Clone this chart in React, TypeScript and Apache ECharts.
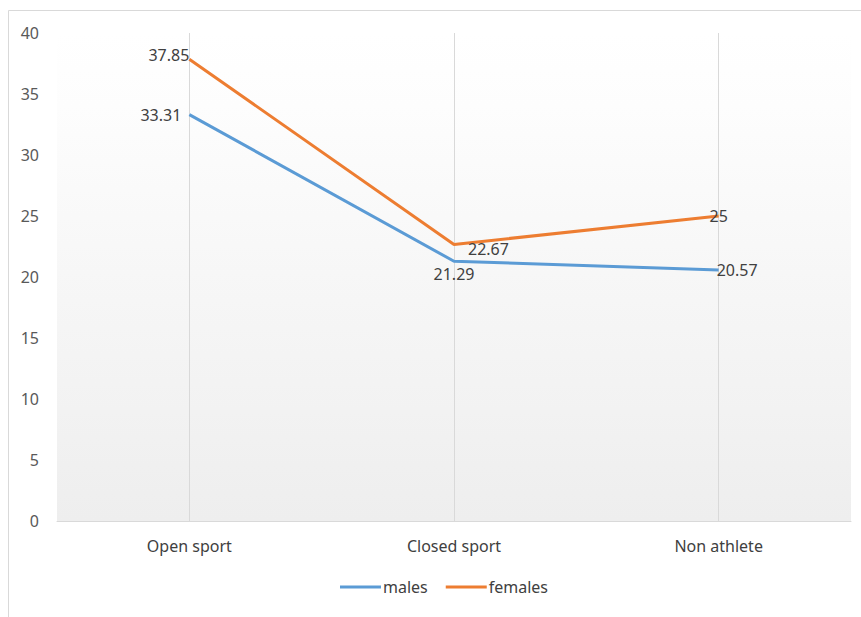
import React, { useEffect, useRef } from "react";
import * as echarts from "echarts";

const categories = ["Open sport", "Closed sport", "Non athlete"];
const males = [33.31, 21.29, 20.57];
const females = [37.85, 22.67, 25];
const yTicks = { min: 0, max: 40, interval: 5 };

export default function App() {
  const ref = useRef<HTMLDivElement>(null);
  useEffect(() => {
    const chart = echarts.init(ref.current!, null, { renderer: "svg" });
    const font = "'Noto Sans', sans-serif";
    const maleLabels = [
      { position: "left", distance: 8 },
      { position: "bottom", distance: 5 },
      { position: "right", distance: -2 },
    ];
    const femaleLabels = [
      { position: "left", distance: 0, offset: [0, -4] },
      { position: "right", distance: 14, offset: [0, 5] },
      { position: "inside", offset: [0, 0] },
    ];
    chart.setOption({
      animation: false,
      textStyle: { fontFamily: font },
      graphic: [
        {
          type: "polyline",
          shape: { points: [[8.5, 617], [8.5, 10.5], [861, 10.5]] },
          style: { stroke: "#d9d9d9", lineWidth: 1, fill: "none" },
          silent: true,
        },
      ],
      grid: {
        left: 57,
        right: 10,
        top: 33,
        bottom: 96,
        show: true,
        borderWidth: 0,
        backgroundColor: {
          type: "linear",
          x: 0,
          y: 0,
          x2: 0,
          y2: 1,
          colorStops: [
            { offset: 0, color: "#ffffff" },
            { offset: 0.15, color: "#fdfdfd" },
            { offset: 1, color: "#eeeeee" },
          ],
        },
      },
      legend: {
        bottom: 17,
        left: 335,
        itemWidth: 41,
        itemHeight: 3,
        itemGap: 18,
        icon: "rect",
        textStyle: { color: "#404040", fontSize: 16, fontFamily: font, padding: [0, 0, 0, -3] },
        data: ["males", "females"],
      },
      xAxis: {
        type: "category",
        data: categories,
        boundaryGap: true,
        axisLine: { lineStyle: { color: "#d9d9d9", width: 1 } },
        axisTick: { show: false },
        axisLabel: { color: "#404040", fontSize: 16, margin: 17, fontFamily: font },
        splitLine: { show: false },
      },
      yAxis: {
        type: "value",
        min: yTicks.min,
        max: yTicks.max,
        interval: yTicks.interval,
        axisLine: { show: false },
        axisTick: { show: false },
        splitLine: { show: false },
        axisLabel: { color: "#595959", fontSize: 16, margin: 18, fontFamily: font },
      },
      series: [
        {
          name: "males",
          type: "line",
          data: males.map((v, i) => ({
            value: v,
            label: { show: true, ...maleLabels[i] },
          })),
          symbol: "circle",
          symbolSize: 0,
          showSymbol: true,
          lineStyle: { color: "#5b9bd5", width: 3 },
          itemStyle: { color: "#5b9bd5" },
          label: { show: true, color: "#404040", fontSize: 16, fontFamily: font },
          z: 3,
          markLine: {
            silent: true,
            symbol: "none",
            label: { show: false },
            lineStyle: { color: "#d9d9d9", width: 1, type: "solid" },
            data: categories.map((c) => ({ xAxis: c })),
            z: 1,
          },
        },
        {
          name: "females",
          type: "line",
          data: females.map((v, i) => ({
            value: v,
            label: { show: true, ...femaleLabels[i] },
          })),
          symbol: "circle",
          symbolSize: 0,
          showSymbol: true,
          lineStyle: { color: "#ed7d31", width: 3 },
          itemStyle: { color: "#ed7d31" },
          label: { show: true, color: "#404040", fontSize: 16, fontFamily: font },
          z: 3,
        },
      ],
    });
    return () => chart.dispose();
  }, []);
  return <div ref={ref} style={{ width: 861, height: 617, position: "absolute", left: 0, top: 0 }} />;
}
